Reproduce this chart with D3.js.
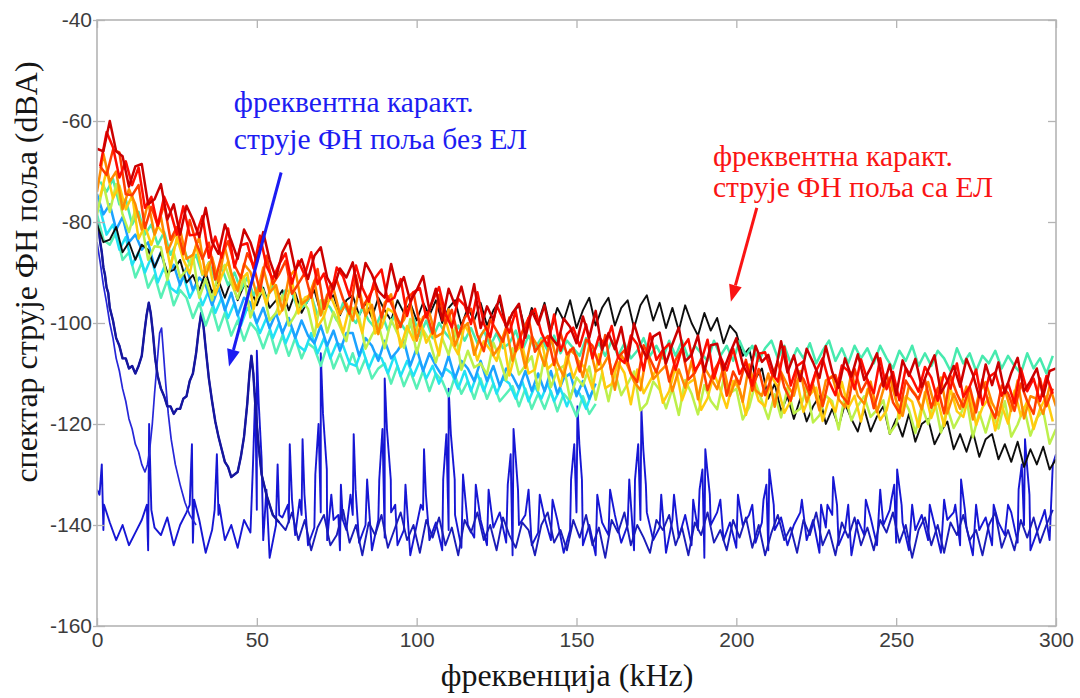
<!DOCTYPE html>
<html>
<head>
<meta charset="utf-8">
<script src="https://cdn.jsdelivr.net/npm/d3@7"></script>
<style>
  html, body { margin: 0; background: #ffffff; }
  svg { display: block; }
</style>
</head>
<body>
<svg id="chart" width="1080" height="698"></svg>
<script>
// Two interleaved frequency grids of the measured spectra (kHz)
const freqEven = d3.range(0, 301, 2);   // 0, 2, ..., 300
const freqOdd = d3.range(1, 300, 2);    // 1, 3, ..., 299
const xTicks = [0, 50, 100, 150, 200, 250, 300];
const yTicks = [-160, -140, -120, -100, -80, -60, -40];

// --- Spectra of the PV-field current with EL (dBA) ---
// even grid
const redDark = [
  -65.5, -66, -60, -66, -67, -73, -69, -68.5, -76.5, -75.5,
  -72.5, -79.5, -76.5, -82.5, -76.8, -79.5, -83, -77.2, -84, -86.3,
  -80.5, -83.7, -87.3, -81.5, -84, -88, -82, -87.5, -91.1, -86,
  -83.5, -89.5, -87.4, -91.3, -86.7, -85, -91, -93.3, -89.2, -91,
  -88, -94.8, -88.1, -90.4, -93.7, -95, -88.3, -93.6, -90.9, -95.7,
  -93.5, -90.7, -97.5, -93.2, -99.5, -93.2, -96.5, -92.8, -98.1, -92.3,
  -101, -96.7, -99.4, -94.6, -100.8, -98, -96.2, -102.9, -97.6, -100.3,
  -96.5, -102.7, -104.4, -99.1, -100.8, -104, -98.7, -102.9, -97.6, -105.3,
  -102, -105.2, -100.8, -107.5, -100.1, -104.3, -107, -102.7, -101.9, -108,
  -104.2, -100.9, -107.6, -106.3, -102.5, -109.7, -104.4, -104.1, -109.3, -106,
  -103, -108.2, -110.8, -104.5, -107.7, -106.3, -110.5, -103.6, -109.8, -106.4,
  -111.5, -105.1, -107.8, -110.9, -104.6, -109.7, -112.8, -107, -110.6, -106.2,
  -111.3, -108.9, -106, -112.6, -108.2, -114.3, -107.4, -110.5, -107.1, -112.7,
  -109.3, -106.4, -113.9, -111.5, -108.5, -112.6, -107.1, -110.2, -114.7, -108.2,
  -112.3, -107.8, -113.9, -109.9, -106.9, -113.5, -111.5, -109, -114.5, -109.5,
  -109
];
// odd grid
const red = [
  -69, -62.2, -65.2, -71.2, -68, -72.7, -69.2, -77.2, -75, -80.7,
  -75, -78, -82.5, -76.9, -82.6, -82.5, -78.8, -87.1, -82.9, -87.1,
  -81.3, -89, -84.6, -84.2, -89.2, -82.7, -88.7, -91.3, -88.3, -86.2,
  -92.2, -87.7, -90.6, -86, -92.3, -90.2, -95.1, -89, -90.8, -94.7,
  -88.6, -93, -95.8, -91.1, -89.4, -95.7, -95, -91.3, -98.6, -93.9,
  -93.1, -98.9, -95.6, -92.9, -98.1, -100.9, -95.2, -96.5, -100.2, -93.9,
  -100.1, -102.8, -96.5, -99.2, -101.9, -97.6, -104.8, -99, -97.2, -101.9,
  -104.6, -98.3, -105.5, -102.2, -100.9, -104.6, -100.3, -107, -102.7, -104.4,
  -100.6, -106.8, -107.9, -102.5, -104.2, -109.4, -102.1, -107.3, -105.4, -104.1,
  -109.3, -105, -103.2, -109.4, -107.6, -103.3, -111, -106.7, -109.4, -105.1,
  -110.1, -107.8, -112.4, -106.1, -105.8, -109.9, -111.6, -104.7, -112.4, -108.5,
  -107.6, -113.2, -109.4, -107, -111.6, -114.3, -108.4, -109.5, -113.1, -107.2,
  -111.3, -113.9, -107, -113.1, -109.7, -115.3, -108.9, -111, -113.6, -108.7,
  -110.8, -115.4, -109.9, -113, -108, -114.6, -112.6, -109.2, -116.2, -110.7,
  -109.8, -114.4, -111.9, -115.9, -109, -113.5, -111, -115.5, -110.5, -114
];
// odd grid
const redOrange = [
  -69, -70.7, -65.7, -66.2, -74.5, -74.7, -72.7, -81.2, -77, -80.7,
  -76.5, -83.5, -81, -86.4, -79.6, -84, -87.3, -84.1, -91.4, -86.6,
  -83.8, -88.5, -91.1, -86.2, -88.7, -93.7, -86.7, -92.3, -90.3, -87.7,
  -94.2, -92.2, -90.1, -95, -89.3, -97.2, -92.6, -91.5, -95.3, -98.2,
  -90.6, -97, -94.8, -92.6, -98.9, -94.7, -97.5, -100.8, -95.1, -93.9,
  -100.6, -97.9, -102.1, -94.4, -100.1, -97.4, -102.7, -99, -97.2, -102.4,
  -105.6, -99.3, -101.5, -103.7, -98.9, -105.6, -101.8, -99, -105.7, -103.9,
  -102.6, -108.3, -102, -106.2, -104.9, -109.6, -103.3, -104.5, -108.2, -102.4,
  -110.1, -106.8, -105.4, -110, -111.7, -104.4, -107.1, -109.8, -105.4, -111.6,
  -107.3, -105, -111.2, -109.9, -107.1, -113.3, -109.5, -107.2, -114.4, -109.6,
  -112.1, -107.3, -113.4, -109.1, -114.3, -110.9, -107.6, -112.7, -115.4, -109.5,
  -111.1, -114.2, -109.4, -116.5, -111.1, -110.3, -114.4, -116, -109.1, -113.7,
  -111.3, -116.9, -112.5, -110.1, -115.7, -117.8, -111.4, -113.5, -115.1, -111.2,
  -116.8, -112.9, -117.9, -110.5, -114, -116.6, -112.6, -117.7, -111.2, -116.2,
  -118.8, -112.4, -113.9, -117.4, -112, -115.5, -118, -111, -116.5, -113
];
// even grid
const orange = [
  -74, -66.5, -72, -70, -77.5, -73.5, -76.5, -81.5, -76, -82.5,
  -79, -86, -83, -81.5, -87.3, -86.5, -83, -90.7, -87, -91.8,
  -85, -90.1, -93.7, -88.3, -89.9, -94.5, -89, -94, -92.5, -97.5,
  -91, -89.4, -96.3, -95.2, -91.6, -98.5, -94.4, -93.3, -98.2, -96.1,
  -99.5, -93.3, -98.6, -96.4, -102.2, -96, -94.3, -101.1, -99.4, -96.2,
  -103.5, -98.8, -98, -102.8, -102, -97.3, -104.5, -101.3, -100, -106.3,
  -102.5, -100.7, -106.4, -104.6, -100.8, -107.5, -103.2, -108.9, -102.6, -104.8,
  -108.5, -102.7, -107.9, -110.6, -105.3, -106.5, -110.7, -104.4, -109.6, -108.8,
  -106.5, -113.2, -106.3, -108.5, -111.6, -113.3, -105.9, -111.1, -109.7, -108.4,
  -113.5, -109.2, -112.8, -107.5, -115.1, -108.8, -110.9, -113.1, -108.7, -114.4,
  -111, -115.6, -108.2, -113.3, -114.4, -110, -116.6, -109.7, -112.3, -114.4,
  -109.5, -115.6, -112.2, -117.3, -111.4, -110.5, -115.1, -116.7, -109.8, -114.4,
  -116, -111.6, -117.6, -113.2, -110.8, -115.4, -118.4, -112.5, -114.1, -117.1,
  -111.7, -116.3, -110.8, -117.9, -114, -117, -112.6, -119.1, -113.7, -111.7,
  -115.8, -118.3, -113.3, -117.4, -111.4, -118.9, -114.5, -115, -118, -112.5,
  -116.5
];
// odd grid
const yellow = [
  -75, -69.8, -75.3, -72.8, -77.5, -74.8, -83.3, -80.8, -84.5, -80.8,
  -82.5, -89, -83, -87.4, -90.2, -84.5, -90.4, -88.1, -94.4, -90.7,
  -87.8, -93.4, -91.5, -90.1, -97.2, -92.3, -96.3, -90.8, -98.3, -96.3,
  -91.7, -98.1, -95, -94.4, -100.8, -98.7, -94.6, -97.5, -101.9, -96.8,
  -97.7, -102, -94.8, -102.1, -100.9, -97.2, -98, -104.8, -100.6, -103.4,
  -99.2, -103.9, -101.7, -106.4, -99.2, -103.9, -106.2, -100.4, -102.7, -107.4,
  -103.6, -105.3, -107.5, -102.7, -110.4, -105.6, -104.3, -110, -109.2, -103.4,
  -109.1, -107.8, -112.5, -106.2, -110.9, -107.6, -109.3, -113, -106.2, -112.9,
  -112.1, -107.8, -109.9, -116.1, -109.2, -113.9, -111.5, -109.2, -115.8, -113.5,
  -108.6, -115.3, -111.9, -111.1, -117.2, -114.9, -110, -113.2, -116.8, -111.5,
  -113.1, -118.2, -111.3, -115.4, -116.5, -110.6, -112.7, -117.8, -115.4, -111.5,
  -117.6, -114.2, -112.8, -119.4, -115, -117.6, -111.7, -116.8, -114.4, -119.5,
  -113.1, -115.6, -119.2, -117.3, -111.9, -118.9, -114.5, -115.6, -120.6, -113.7,
  -118.8, -115.3, -120.4, -113, -117.5, -118.6, -113.6, -120.2, -116.7, -114.8,
  -121.3, -116.3, -119.9, -113.4, -118.4, -115.5, -121, -117, -114.5, -119.5
];
// even grid
const yellowGreen = [
  -78.5, -72.5, -78, -72.5, -78.5, -82, -77.5, -80.5, -87.5, -84.8,
  -85, -91.5, -86, -91, -89.5, -86.5, -95, -91.3, -95.5, -90,
  -88.5, -92.1, -95.2, -90.8, -98.9, -95, -93.5, -99.5, -98, -94.5,
  -100.5, -98.4, -95.3, -97.2, -102.6, -95.5, -101.9, -97.8, -100.7, -103.6,
  -97, -98.8, -105.1, -102.4, -100.2, -105, -99.3, -102.1, -104.9, -99.2,
  -106, -101.3, -103.5, -107.8, -103, -106.3, -101, -109.3, -105.5, -108.8,
  -108, -110.2, -103.9, -107.1, -111.3, -105, -110.2, -108.4, -106.6, -113.3,
  -106.5, -112.7, -109.3, -108.5, -115.1, -110.8, -112.4, -108.6, -115.2, -109.9,
  -115.5, -109.7, -114.3, -112, -109.6, -117.3, -115.9, -111.6, -113.2, -116.9,
  -113, -118.2, -111.3, -114, -118.1, -112.3, -115.4, -117.1, -111.2, -113.9,
  -113, -119.1, -116.7, -111.8, -115.4, -119, -114.1, -118.7, -112.8, -117.9,
  -117, -112.6, -119.7, -118.3, -114.4, -115.5, -121.1, -114.2, -119.3, -116.4,
  -114.5, -118.6, -117.2, -115.3, -121.9, -120, -114.6, -117.2, -121.8, -116.4,
  -120, -115.1, -121.7, -116.8, -120.8, -118.4, -115, -122.6, -117.7, -121.7,
  -117.3, -120.9, -115.5, -122.5, -120.1, -116.7, -122.3, -118.8, -117.4, -123.9,
  -121
];
// odd grid
const aquamarine = [
  -72, -74, -71.5, -76.5, -75.5, -80.5, -78, -82.5, -80.5, -84.5,
  -82, -86.5, -84, -85, -88.5, -86.5, -90.5, -88, -91.5, -89,
  -92.5, -90, -93.5, -91, -94.5, -92, -95.5, -92.5, -96, -93.5,
  -94, -97.5, -96.5, -94.5, -98.5, -95.5, -97, -99.5, -96, -98.5,
  -100, -97, -99.5, -101, -98, -101.5, -98.5, -100, -102, -99,
  -102.5, -99.5, -103, -100, -102, -103.5, -100.5, -103.5, -101, -104,
  -101.5, -104.5, -102, -105, -104, -101.5, -105.5, -102.5, -105, -103,
  -105.5, -102.5, -106, -103.5, -105, -106.5, -103, -106, -104, -106.5,
  -103.5, -106.5, -104, -107, -105.5, -103, -106.5, -104.5, -107, -103.5,
  -106.5, -103.5, -107, -104.5, -106, -107.5, -103.5, -106.5, -104.5, -107.5,
  -103.5, -106.5, -104.5, -107.5, -105, -103.5, -107, -104.5, -108, -105,
  -107, -104, -108, -105.5, -103.5, -107.5, -105, -108, -104.5, -107,
  -105, -108, -104.5, -107, -109, -105.5, -107.5, -104.5, -108.5, -106,
  -108.5, -105.5, -107, -109.5, -105, -108, -106, -109.5, -106.5, -108,
  -105.5, -109, -106.5, -108.5, -110, -106, -109, -107, -110, -106.5
];
// even grid
const black = [
  -80.5, -84, -83.5, -81, -86, -84, -87.5, -84.5, -85.5, -89,
  -86, -90, -89.5, -87.5, -92, -90.5, -93.5, -90, -94, -91.5,
  -95, -91.5, -95.5, -92.5, -93, -96.5, -93, -97, -95.5, -93.5,
  -97.5, -94, -98, -95.5, -93.5, -98, -96, -94.5, -98.5, -95.5,
  -94.5, -98.5, -96, -99, -95, -97.5, -99.5, -95.5, -98, -96,
  -99.5, -96, -98.5, -95.5, -100, -97, -95.5, -100.5, -97, -99.5,
  -96, -100.5, -97.5, -95.5, -101, -98, -96.5, -101.5, -97, -100,
  -96, -101.5, -97, -99.5, -95.5, -101, -97.5, -95, -100.5, -97,
  -95, -100.5, -97, -95.5, -101, -96.5, -94.5, -99.5, -96, -101,
  -97, -101.5, -96.5, -100, -102.5, -98, -101.5, -99, -104, -100.5,
  -102, -106.5, -105, -111, -109, -115, -112, -117.5, -114.5, -119,
  -115, -119.5, -116.5, -114.5, -120, -117, -120.5, -116, -119, -121.5,
  -117, -121.5, -118.5, -116.5, -122, -119, -122.5, -118, -123.5, -120,
  -119, -124, -121.5, -119.5, -125, -122, -125.5, -121.5, -126.5, -123,
  -122, -127, -124, -127.5, -123.5, -128.5, -125, -128, -124.5, -129,
  -127
];

// --- Spectra of the PV-field current without EL (dBA), recorded up to 156 kHz ---
// even grid
const lightBlue = [
  -74.5, -78.5, -76.5, -81.5, -79, -84, -82.5, -85.5, -84, -89,
  -86, -90.5, -88.5, -92.5, -89, -93.5, -91, -92.5, -96.5, -93,
  -97.5, -94, -98.5, -95, -96, -100, -97, -101, -98, -102,
  -99, -103, -99.5, -102.5, -104, -100.5, -104.5, -101.5, -105.5, -102,
  -102, -106.5, -103, -104.5, -107.5, -103.5, -107, -105.5, -103.5, -108.5,
  -105, -109.5, -106, -108.5, -110.5, -106.5, -111, -107.5, -109, -111.5,
  -107.5, -111.5, -108.5, -112.5, -109, -110.5, -113, -109.5, -113.5, -110,
  -113.5, -109.5, -114, -111, -110, -114.5, -111.5, -115, -112
];
// odd grid
const cyan = [
  -77.5, -82.5, -80.5, -85.5, -83, -88.5, -86, -90, -87, -92,
  -89, -93, -94, -90.5, -95, -92.5, -96.5, -93.5, -98, -95,
  -99, -96, -100.5, -97, -98.5, -102, -99, -103, -100, -104,
  -101, -104.5, -105.5, -102, -106, -103, -107, -104, -104.5, -108,
  -108.5, -105, -109, -106, -107, -110, -106.5, -110.5, -107.5, -110.5,
  -107.5, -111, -108.5, -112, -109, -110, -113, -109.5, -113.5, -110,
  -113.5, -110, -114, -111, -112, -115, -111.5, -115.5, -112.5, -115,
  -112, -115.5, -113, -116.5, -113, -114, -117, -113.5
];
// even grid
const mint = [
  -78.5, -83.5, -84.5, -82, -87.5, -86, -91, -88, -93, -90.5,
  -95, -91.5, -96.5, -93.5, -95, -99, -96, -100.5, -97, -101.5,
  -98, -102.5, -99.5, -103.5, -100, -101.5, -105, -101.5, -106, -102.5,
  -106.5, -103, -107, -104, -105, -108.5, -104.5, -109, -106, -109.5,
  -106, -110, -107, -111, -109, -108, -112, -108.5, -112.5, -109.5,
  -113, -109.5, -113.5, -110, -111.5, -114.5, -110.5, -114, -111.5, -115,
  -111, -115, -112, -115.5, -114, -112.5, -116.5, -113, -117, -114,
  -117, -113.5, -117.5, -114, -115.5, -118.5, -114.5, -118, -116
];

// Noise floor of the current without EL, even grid
const blueFloor = [
  -133, -141, -139.5, -143, -140, -144, -141.5, -139, -145, -140.5,
  -142, -138.5, -144, -140, -137.5, -143.5, -139, -145.5, -141, -138,
  -143, -140, -144.5, -139, -141.5, -137, -143, -146.5, -140, -138.5,
  -139.5, -142, -138, -144, -140.5, -137.5, -143, -139, -145, -141,
  -138, -143.5, -140, -145, -139, -142.5, -137.5, -144, -141, -146,
  -140, -137, -143, -139.5, -145, -141, -138, -144.5, -140, -142.5,
  -139, -144, -140.5, -137.5, -143.5, -146, -140, -138, -144, -141.5,
  -138.5, -143, -139, -145.5, -141, -137.5, -144, -140, -146, -139.5,
  -142, -138, -143.5, -140, -145, -139, -137.5, -143, -140.5, -145.5,
  -139, -142.5, -138, -144, -141, -146.5, -140, -137.5, -143, -139.5,
  -144.5, -140, -138, -143.5, -139.5, -145, -141, -138.5, -144, -140,
  -137.5, -143, -139, -145.5, -140.5, -138, -144, -141, -146, -139,
  -142, -138.5, -144, -140, -137, -143.5, -139.5, -145, -141, -138,
  -143, -140, -145.5, -139, -137.5, -144, -140.5, -146, -141, -138.5,
  -144, -139.5, -142, -137.5, -143.5, -140, -145, -141.5, -138, -143,
  -126
];
// Harmonic lines on top of the floor: [kHz, dBA]
const blueLines = [
  [0.8, -134], [1.5, -128], [2.2, -136],
  [15.6, -136], [16.3, -120], [17, -137],
  [29, -136], [29.7, -124], [30.4, -135],
  [36.8, -137], [37.5, -126], [38.2, -136],
  [48.8, -128], [49.5, -114], [50, -105.5], [50.6, -116], [51.5, -127], [53, -133],
  [56.1, -137], [56.5, -128], [57, -138],
  [59.7, -136], [60.3, -124], [61, -135],
  [63.4, -135], [64.3, -123], [64.9, -134],
  [68.3, -130], [69.3, -120], [70, -106], [70.7, -118], [71.9, -129], [73.3, -134],
  [75.5, -138], [76.3, -132], [76.9, -139],
  [79.3, -134], [80.3, -122], [80.9, -133],
  [84.5, -131],
  [88.3, -131], [89.3, -121], [90, -111], [90.7, -121], [91.9, -131], [93.3, -136],
  [96.5, -132],
  [101.3, -136], [102.3, -125], [102.9, -134],
  [108.3, -131], [109.3, -122], [110, -113], [110.7, -122], [111.9, -131],
  [114.5, -130], [118.5, -132], [122.5, -133],
  [128.5, -132], [129.4, -126], [130.3, -121], [130.9, -126], [131.7, -133],
  [135, -133], [138.5, -134], [142.5, -135],
  [148.3, -131], [149.3, -124], [150.3, -116.5], [150.9, -124], [151.7, -131],
  [156.5, -134], [160.5, -133], [166.5, -131],
  [168.3, -131], [169.3, -124], [170.3, -117], [170.9, -125], [171.7, -132],
  [176.5, -134], [180.5, -134], [186.5, -135],
  [188.5, -133], [189.4, -129], [190.3, -125], [190.9, -129], [191.7, -134],
  [195, -135], [200.5, -134], [205, -136],
  [208.5, -135], [209.4, -132], [210.3, -129], [210.9, -132], [211.7, -136],
  [220.5, -135], [226.5, -136],
  [228.5, -136], [230.3, -130.5], [231.5, -136],
  [235, -136], [240.5, -135], [245, -133],
  [248.5, -135], [249.4, -132], [250.3, -129], [250.9, -132], [251.7, -136],
  [255, -136], [260.5, -136], [265, -135],
  [268.5, -136], [270.3, -131], [271.5, -137],
  [275, -136], [280.5, -136], [285, -136],
  [288.3, -133], [289.3, -128], [290.3, -123], [290.9, -128], [291.7, -134],
  [296.5, -137], [299, -128]
];
// Spectrum with a 16.5 kHz line series, low-frequency part: [kHz, dBA]
const blueHarmonic = [
  [0, -79], [0.5, -81], [1, -84], [1.5, -86], [2, -89], [2.5, -90.5], [3, -93], [3.5, -94],
  [4, -97], [5, -99.5], [6, -103], [7, -104.5], [8, -107], [9, -107], [10, -109], [11, -108.5],
  [12, -110], [13, -108.5], [14, -106.5], [14.8, -102], [15.5, -98.5], [16.2, -96], [16.8, -98],
  [17.5, -102], [18.2, -107], [19, -110.5], [20, -113], [21, -114.5], [22, -116.5], [23, -116.5],
  [24, -118], [25, -117], [26, -117], [27, -115], [28, -114.5], [29, -111.5], [30, -110],
  [31, -106], [31.8, -101.5], [32.6, -98], [33.3, -100.5], [34, -105], [35, -111], [36, -115.5],
  [37, -119.5], [38, -122.5], [39, -125], [40, -127.5], [41, -128.5], [42, -130.5], [43, -130],
  [44, -129.5], [45, -126.5], [46, -122.5], [47, -116], [47.7, -110], [48.3, -106.5], [48.9, -110],
  [49.6, -117], [50.5, -124], [51.5, -130], [53, -134], [55, -138], [57, -139.5]
];
// Same spectrum above 59 kHz, odd grid 59 ... 299
const blueHarmonicFloor = [
  -141, -137.5, -143, -139, -145, -140.5, -138, -144, -142, -137,
  -143.5, -140, -146, -139.5, -142, -138, -144.5, -141, -137.5, -143,
  -140, -145.5, -139, -142.5, -138.5, -144, -140.5, -146, -139, -141.5,
  -137.5, -143, -140, -145, -138.5, -142, -144.5, -139.5, -141, -146,
  -140, -137.5, -143.5, -141, -145, -139, -142.5, -138, -144, -140.5,
  -146.5, -139, -141.5, -137.5, -144, -140, -142.5, -145.5, -139, -141,
  -138, -144, -140.5, -146, -139.5, -142, -137.5, -143.5, -141, -145,
  -139, -142.5, -138.5, -144.5, -140, -146, -141.5, -138, -143, -140.5,
  -145.5, -139, -142, -137.5, -144, -141, -146, -139.5, -142.5, -138.5,
  -144, -140.5, -145, -139, -141.5, -137.5, -143.5, -140, -146.5, -141,
  -138.5, -144, -140, -145.5, -139.5, -142, -138, -143, -141, -146,
  -140, -137.5, -144.5, -141, -145, -139, -142.5, -138.5, -143.5, -140,
  -137
];
// Spectrum with a 20 kHz line: [kHz, dBA]
const blueDecay = [
  [0, -84], [1, -88], [2, -92.5], [3, -96], [4, -100], [5, -103], [6, -107], [7, -109.5],
  [8, -113], [9, -115.5], [10, -119], [11, -121], [12, -124], [13, -125.5], [14, -128],
  [15, -129.5], [15.8, -128], [16.5, -125], [17.3, -120], [18, -114], [18.8, -108], [19.6, -102],
  [20.2, -101], [20.8, -106], [21.5, -112], [22.3, -118], [23.2, -123], [24.5, -128],
  [26, -132], [27.5, -135.5], [29, -138], [31, -140]
];

const annotations = [
  { lines: ["фреквентна каракт.", "струје ФН поља без ЕЛ"], x: 42.8, y: -58.2, gap: 37,
    color: "#1c1cf2", arrow: { from: [57.6, -70.2], to: [41.3, -108.6] } },
  { lines: ["фреквентна каракт.", "струје ФН поља са ЕЛ"], x: 192.7, y: -68.9, gap: 31,
    color: "#fa1414", arrow: { from: [206.4, -77.2], to: [198.3, -95.8] } }
];

// ---------------------------------------------------------------
const svg = d3.select("#chart");
const W = 1080, H = 698;
const m = { left: 97, right: 24, top: 20, bottom: 72 };
const x = d3.scaleLinear().domain([0, 300]).range([m.left, W - m.right]);
const y = d3.scaleLinear().domain([-160, -40]).range([H - m.bottom, m.top]);

svg.append("rect").attr("width", W).attr("height", H).attr("fill", "#fff");

const defs = svg.append("defs");
defs.append("clipPath").attr("id", "plot-clip")
  .append("rect").attr("x", x(0)).attr("y", y(-40))
  .attr("width", x(300) - x(0)).attr("height", y(-160) - y(-40));
defs.append("filter").attr("id", "soft")
  .append("feGaussianBlur").attr("stdDeviation", 0.35);

const pts = (vals, grid) => vals.map((v, i) => [grid[i], v]);
const bluePts = pts(blueFloor, freqEven).concat(blueLines).sort((a, b) => a[0] - b[0]);
const harmonicPts = blueHarmonic.concat(pts(blueHarmonicFloor, d3.range(59, 300, 2)));

const noisyW = 2.5;
const series = [
  { data: bluePts, color: "#1616d4", w: 1.9 },
  { data: harmonicPts, color: "#1a1cb8", w: 1.9 },
  { data: blueDecay, color: "#2626d8", w: 1.7 },
  { data: blueHarmonic, color: "#16189e", w: 2.4 },
  { data: pts(mint, freqEven), color: "#58f0b6", w: noisyW },
  { data: pts(cyan, freqOdd), color: "#24e2f4", w: noisyW },
  { data: pts(lightBlue, freqEven), color: "#1aa2ff", w: noisyW },
  { data: pts(black, freqEven), color: "#111111", w: 1.9 },
  { data: pts(aquamarine, freqOdd), color: "#46eaae", w: noisyW },
  { data: pts(yellowGreen, freqEven), color: "#bdf04c", w: noisyW },
  { data: pts(yellow, freqOdd), color: "#ffcc10", w: noisyW },
  { data: pts(orange, freqEven), color: "#ff8a00", w: noisyW },
  { data: pts(redOrange, freqOdd), color: "#ff3c00", w: noisyW },
  { data: pts(red, freqOdd), color: "#ff0a00", w: noisyW },
  { data: pts(redDark, freqEven), color: "#cc0000", w: noisyW }
];

const line = d3.line().x(d => x(d[0])).y(d => y(d[1]));
const plot = svg.append("g").attr("clip-path", "url(#plot-clip)")
  .append("g").attr("filter", "url(#soft)");
plot.selectAll("path.spectrum").data(series).join("path")
  .attr("class", "spectrum")
  .attr("d", d => line(d.data))
  .attr("fill", "none")
  .attr("stroke", d => d.color)
  .attr("stroke-width", d => d.w)
  .attr("stroke-linejoin", "round");

// Axes box with inward ticks
const axisColor = "#b4b4b4";
svg.append("rect")
  .attr("x", x(0)).attr("y", y(-40))
  .attr("width", x(300) - x(0)).attr("height", y(-160) - y(-40))
  .attr("fill", "none").attr("stroke", axisColor).attr("stroke-width", 1.6);

const tickFont = "'Liberation Sans', Arial, sans-serif";
const plain = d => String(d);
const axB = d3.axisBottom(x).tickValues(xTicks).tickSize(-8).tickPadding(6).tickFormat(plain);
const axL = d3.axisLeft(y).tickValues(yTicks).tickSize(4).tickPadding(1).tickFormat(plain);
const axT = d3.axisTop(x).tickValues(xTicks).tickSize(-8).tickFormat("");
const axR = d3.axisRight(y).tickValues(yTicks).tickSize(-8).tickFormat("");

function styleAxis(g) {
  g.select(".domain").remove();
  g.selectAll(".tick line").attr("stroke", axisColor).attr("stroke-width", 1.3);
  g.selectAll(".tick text").attr("fill", "#3c3c3c")
    .style("font-family", tickFont).style("font-size", "21px");
}
svg.append("g").attr("transform", `translate(0,${y(-160)})`).call(axB).call(styleAxis);
svg.append("g").attr("transform", `translate(${x(0)},0)`).call(axL).call(styleAxis)
  .call(g => g.selectAll(".tick").append("line").attr("x2", 8)
    .attr("stroke", axisColor).attr("stroke-width", 1.3));
svg.append("g").attr("transform", `translate(0,${y(-40)})`).call(axT).call(styleAxis);
svg.append("g").attr("transform", `translate(${x(300)},0)`).call(axR).call(styleAxis);

// Axis titles
const serif = "'Liberation Serif', 'Times New Roman', serif";
svg.append("text")
  .attr("transform", "translate(37,272) rotate(-90)")
  .attr("text-anchor", "middle")
  .style("font-family", serif).style("font-size", "32px").attr("fill", "#151515")
  .text("спектар струје ФН поља (dBA)");
svg.append("text")
  .attr("x", 567).attr("y", 686)
  .attr("text-anchor", "middle")
  .style("font-family", serif).style("font-size", "32px").attr("fill", "#151515")
  .text("фреквенција (kHz)");

// Annotations with arrows
annotations.forEach(a => {
  const t = svg.append("text")
    .attr("x", x(a.x)).attr("y", y(a.y))
    .style("font-family", serif).style("font-size", "29.5px").attr("fill", a.color);
  a.lines.forEach((s, i) => t.append("tspan")
    .attr("x", x(a.x)).attr("dy", i === 0 ? 0 : a.gap).text(s));

  const x1 = x(a.arrow.from[0]), y1 = y(a.arrow.from[1]);
  const x2 = x(a.arrow.to[0]), y2 = y(a.arrow.to[1]);
  const ang = Math.atan2(y2 - y1, x2 - x1);
  const headLen = 17, headW = 6.5;
  const bx = x2 - headLen * Math.cos(ang), by = y2 - headLen * Math.sin(ang);
  svg.append("line")
    .attr("x1", x1).attr("y1", y1).attr("x2", bx).attr("y2", by)
    .attr("stroke", a.color).attr("stroke-width", 3);
  svg.append("path")
    .attr("d", d3.line()([
      [x2, y2],
      [bx + headW * Math.sin(ang), by - headW * Math.cos(ang)],
      [bx - headW * Math.sin(ang), by + headW * Math.cos(ang)]
    ]) + "Z")
    .attr("fill", a.color);
});
</script>
</body>
</html>
